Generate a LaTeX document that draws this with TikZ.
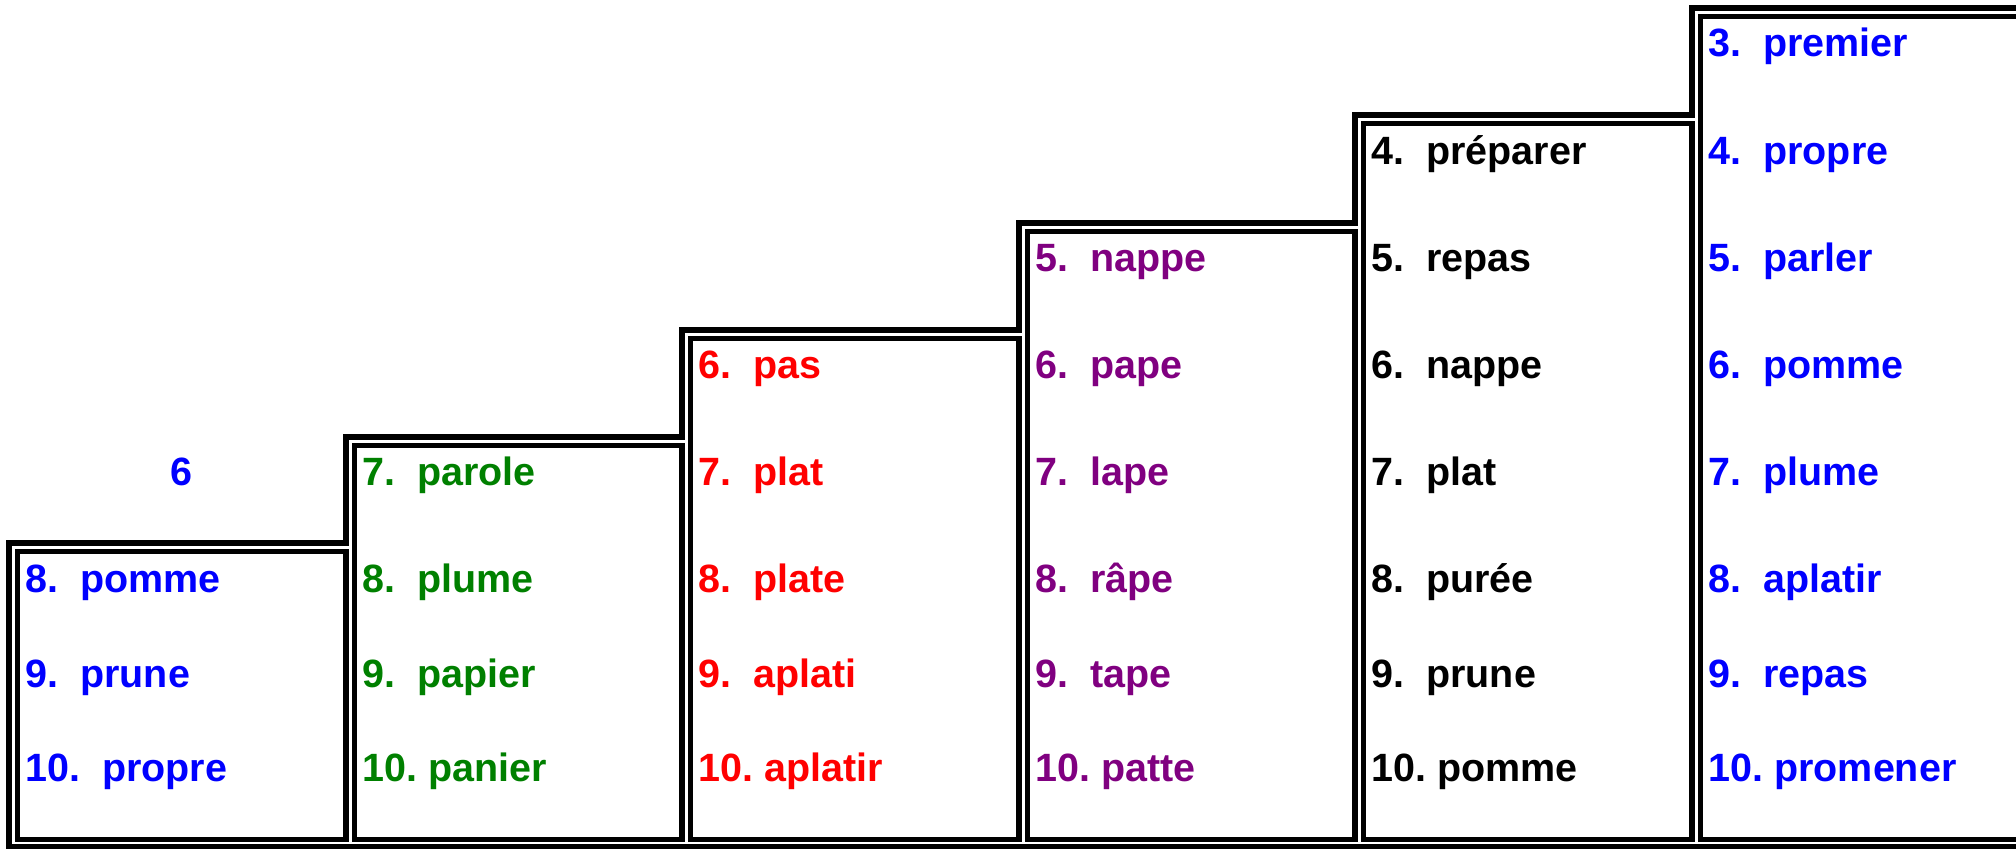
\documentclass[tikz,border=0pt]{standalone}
\usepackage{fontspec}
\setmainfont{Liberation Sans}
\definecolor{wblue}{RGB}{0,0,255}
\definecolor{wgreen}{RGB}{0,128,0}
\definecolor{wred}{RGB}{255,0,0}
\definecolor{wpurple}{RGB}{128,0,128}
\frenchspacing
\begin{document}
\begin{tikzpicture}[x=0.75pt,y=-0.75pt,line width=3.8pt,
  word/.style={font=\fontsize{29.6}{35}\selectfont\bfseries, inner sep=0pt, anchor=base west},
  frame/.style={draw=black, line width=3.8pt, line join=miter}]
\useasboundingbox (0,0) rectangle (2016,849);
\clip (0,0) rectangle (2016,849);
% outer staircase
\draw[frame] (2060,8) -- (1692,8) -- (1692,115) -- (1355,115) -- (1355,223) -- (1019,223)
  -- (1019,330) -- (682,330) -- (682,437) -- (346,437) -- (346,543) -- (9,543)
  -- (9,846.5) -- (2060,846.5);
% inner boxes
\draw[frame] (17.5,551.5) rectangle (346,839.5);
\draw[frame] (354.5,445.5) rectangle (682,839.5);
\draw[frame] (690.5,338.5) rectangle (1019,839.5);
\draw[frame] (1027.5,231.5) rectangle (1355,839.5);
\draw[frame] (1363.5,123.5) rectangle (1692,839.5);
\draw[frame] (1700.5,16.5) rectangle (2060,839.5);
% column 1
\node[word, anchor=base, text=wblue] (c1h) at (181,485) {6};
\node[word, text=wblue] (c1r8) at (23,592) {8.~~pomme};
\node[word, text=wblue] (c1r9) at (23,687) {9.~~prune};
\node[word, text=wblue] (c1r10) at (23,781) {10.~~propre};
% column 2
\node[word, text=wgreen] (c2r7) at (360,485) {7.~~parole};
\node[word, text=wgreen] (c2r8) at (360,592) {8.~~plume};
\node[word, text=wgreen] (c2r9) at (360,687) {9.~~papier};
\node[word, text=wgreen] (c2r10) at (360,781) {10.~panier};
% column 3
\node[word, text=wred] (c3r6) at (696,378) {6.~~pas};
\node[word, text=wred] (c3r7) at (696,485) {7.~~plat};
\node[word, text=wred] (c3r8) at (696,592) {8.~~plate};
\node[word, text=wred] (c3r9) at (696,687) {9.~~aplati};
\node[word, text=wred] (c3r10) at (696,781) {10.~aplatir};
% column 4
\node[word, text=wpurple] (c4r5) at (1033,271) {5.~~nappe};
\node[word, text=wpurple] (c4r6) at (1033,378) {6.~~pape};
\node[word, text=wpurple] (c4r7) at (1033,485) {7.~~lape};
\node[word, text=wpurple] (c4r8) at (1033,592) {8.~~râpe};
\node[word, text=wpurple] (c4r9) at (1033,687) {9.~~tape};
\node[word, text=wpurple] (c4r10) at (1033,781) {10.~patte};
% column 5
\node[word, text=black] (c5r4) at (1369,164) {4.~~préparer};
\node[word, text=black] (c5r5) at (1369,271) {5.~~repas};
\node[word, text=black] (c5r6) at (1369,378) {6.~~nappe};
\node[word, text=black] (c5r7) at (1369,485) {7.~~plat};
\node[word, text=black] (c5r8) at (1369,592) {8.~~purée};
\node[word, text=black] (c5r9) at (1369,687) {9.~~prune};
\node[word, text=black] (c5r10) at (1369,781) {10.~pomme};
% column 6
\node[word, text=wblue] (c6r3) at (1706,57) {3.~~premier};
\node[word, text=wblue] (c6r4) at (1706,164) {4.~~propre};
\node[word, text=wblue] (c6r5) at (1706,271) {5.~~parler};
\node[word, text=wblue] (c6r6) at (1706,378) {6.~~pomme};
\node[word, text=wblue] (c6r7) at (1706,485) {7.~~plume};
\node[word, text=wblue] (c6r8) at (1706,592) {8.~~aplatir};
\node[word, text=wblue] (c6r9) at (1706,687) {9.~~repas};
\node[word, text=wblue] (c6r10) at (1706,781) {10.~promener};
\end{tikzpicture}
\end{document}
